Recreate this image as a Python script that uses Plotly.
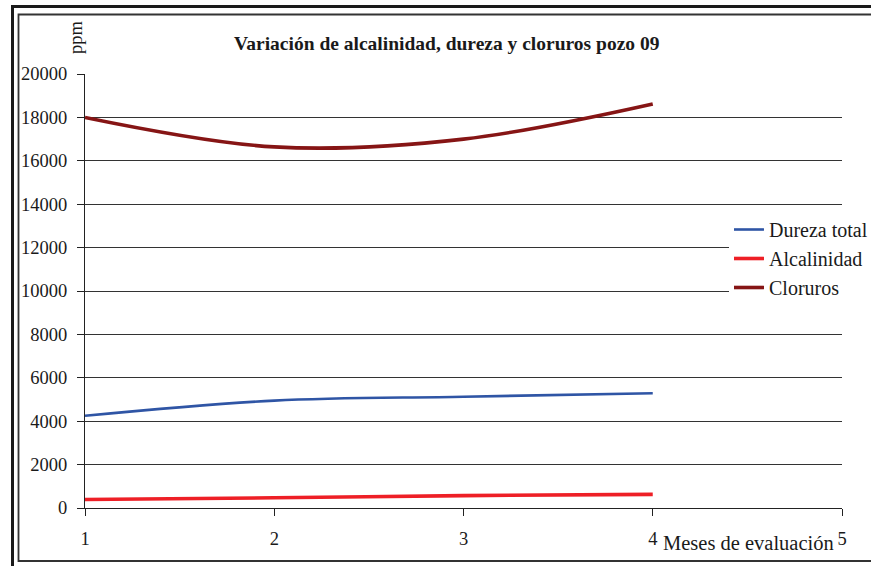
import plotly.graph_objects as go

# Monthly evaluation data for well 09 (ppm)
meses = [1, 2, 3, 4]
dureza_total = [4250, 4950, 5130, 5290]
alcalinidad = [390, 470, 570, 630]
cloruros = [18000, 16640, 17000, 18620]

y_ticks = list(range(0, 20001, 2000))
x_ticks = [1, 2, 3, 4, 5]

W, H = 871, 566
L, R, T, B = 85, 29, 74, 58
PW, PH = W - L - R, H - T - B


def px(x):
    return (x - L) / PW


def py(y):
    return (H - B - y) / PH


SERIF = "Liberation Serif"
INK = "#1a1a1a"

fig = go.Figure()
series = [
    ("Dureza total", dureza_total, "#2f55a5", 2.6),
    ("Alcalinidad", alcalinidad, "#ee1f26", 3.6),
    ("Cloruros", cloruros, "#861515", 3.6),
]
for name, vals, color, w in series:
    fig.add_trace(go.Scatter(
        x=meses, y=vals, name=name, mode="lines",
        line=dict(color=color, width=w, shape="spline", smoothing=1),
    ))

fig.update_layout(
    width=W, height=H,
    margin=dict(l=L, r=R, t=T, b=B, autoexpand=False),
    paper_bgcolor="white", plot_bgcolor="white",
    font=dict(family=SERIF, size=18, color=INK),
    showlegend=True,
    legend=dict(
        x=px(729), y=py(210), xanchor="left", yanchor="top",
        font=dict(family=SERIF, size=20, color=INK),
        bgcolor="white", tracegroupgap=0,
        borderwidth=0,
    ),
    xaxis=dict(
        range=[1, 5], tickvals=x_ticks, ticktext=["1", "2", "3", "4", "5"],
        showgrid=False, zeroline=False, automargin=False,
        showline=True, linecolor="#222", linewidth=1.3,
        ticks="outside", ticklen=7, tickcolor="#222", tickwidth=1.3,
        ticklabelstandoff=7,
        tickfont=dict(family=SERIF, size=18.5, color=INK),
    ),
    yaxis=dict(
        range=[0, 20000], tickvals=y_ticks, tickformat="d",
        showgrid=True, gridcolor="#333", gridwidth=1.3,
        zeroline=False, automargin=False,
        showline=True, linecolor="#222", linewidth=1.3,
        ticks="outside", ticklen=7, tickcolor="#222", tickwidth=1.3,
        ticklabelstandoff=6,
        tickfont=dict(family=SERIF, size=18.5, color=INK),
    ),
)

common = dict(xref="paper", yref="paper", showarrow=False,
              xanchor="center", yanchor="middle")
fig.add_annotation(
    text="<b>Variación de alcalinidad, dureza y cloruros pozo 09</b>",
    x=px(447), y=py(44), font=dict(family=SERIF, size=19.5, color=INK), **common,
)
fig.add_annotation(
    text="ppm", textangle=-90, x=px(76), y=py(37),
    font=dict(family=SERIF, size=18.5, color=INK), **common,
)
fig.add_annotation(
    text="Meses de evaluación", x=px(748), y=py(543),
    font=dict(family=SERIF, size=20.5, color=INK), **common,
)

# Double frame around the chart
fig.add_shape(type="rect", xref="paper", yref="paper",
              x0=px(12.5), x1=px(880), y0=py(575), y1=py(6.5),
              line=dict(color=INK, width=3), layer="above")
fig.add_shape(type="rect", xref="paper", yref="paper",
              x0=px(18.5), x1=px(880), y0=py(561), y1=py(14.5),
              line=dict(color="#333", width=1.8), layer="above")

fig.write_html("out.html")
